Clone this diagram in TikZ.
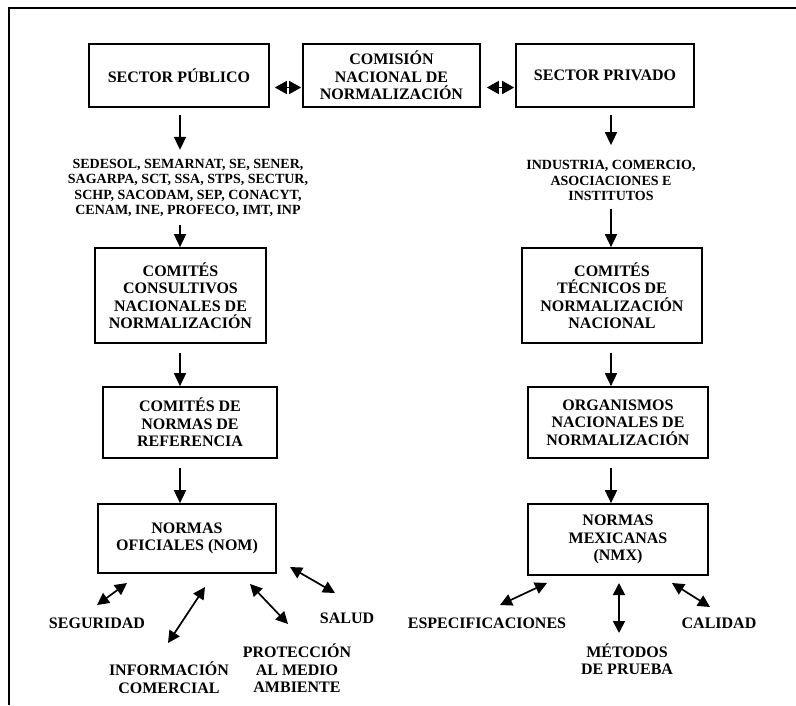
\documentclass[tikz,border=0pt]{standalone}
\usepackage{fontspec}
\setmainfont{Liberation Serif}
\usetikzlibrary{arrows.meta}
\newcommand{\boxfont}{\bfseries\fontsize{16}{17.5}\selectfont}
\newcommand{\listfont}{\bfseries\fontsize{14}{15.5}\selectfont}
\tikzset{
  box/.style={draw, line width=1.7pt, align=center, font=\boxfont, inner sep=0pt},
  listtext/.style={align=center, font=\listfont, inner sep=0pt},
  lbl/.style={align=center, font=\boxfont, inner sep=0pt},
  flow/.style={line width=1.7pt, -{Triangle[length=13pt,width=12pt]}},
  both/.style={line width=1.7pt, {Triangle[length=12pt,width=12pt]}-{Triangle[length=12pt,width=12pt]}},
  link/.style={line width=1.7pt, {Triangle[length=12pt,width=13pt]}-{Triangle[length=12pt,width=13pt]}},
  frame/.style={line width=1.5pt}
}
\begin{document}
\begin{tikzpicture}[x=1pt, y=-1pt]
\useasboundingbox (0,0) rectangle (796,705);
\draw[frame] (9,705) -- (9,8) -- (796,8);

% top row
\node[box, minimum width=180pt, minimum height=63pt] (pub) at (179,75.5) {SECTOR PÚBLICO};
\node[box, minimum width=177pt, minimum height=63pt] (com) at (391.5,75.5) {COMISIÓN\\NACIONAL DE\\NORMALIZACIÓN};
\node[box, minimum width=178pt, minimum height=63pt] (priv) at (605,75.5) {SECTOR PRIVADO};
\draw[link] ([shift={(5,12)}]pub.east) -- ([shift={(-1,12)}]com.west);
\draw[link] ([shift={(6,12)}]com.east) -- ([shift={(-1,12)}]priv.west);

% public sector column
\node[listtext] (dep) at (188,188) {SEDESOL, SEMARNAT, SE, SENER,\\SAGARPA, SCT, SSA, STPS, SECTUR,\\SCHP, SACODAM, SEP, CONACYT,\\CENAM, INE, PROFECO, IMT, INP};
\node[box, minimum width=171pt, minimum height=95pt] (ccn) at (180.5,295.5) {COMITÉS\\CONSULTIVOS\\NACIONALES DE\\NORMALIZACIÓN};
\node[box, minimum width=174pt, minimum height=71pt] (cnr) at (190,422.5) {COMITÉS DE\\NORMAS DE\\REFERENCIA};
\node[box, minimum width=178pt, minimum height=69pt] (nom) at (187,538.5) {NORMAS\\OFICIALES (NOM)};

\coordinate (xl) at (180,0);
\draw[flow] ([shift={(0,7)}]pub.south -| xl) -- ([shift={(0,-9)}]dep.north -| xl);
\draw[flow] ([shift={(0,8)}]dep.south -| xl) -- (ccn.north -| xl);
\draw[flow] ([shift={(0,9)}]ccn.south -| xl) -- (cnr.north -| xl);
\draw[flow] ([shift={(0,9)}]cnr.south -| xl) -- (nom.north -| xl);

% private sector column
\node[listtext] (ind) at (611,180.5) {INDUSTRIA, COMERCIO,\\ASOCIACIONES E\\INSTITUTOS};
\node[box, minimum width=180pt, minimum height=95pt] (ctn) at (612,295.5) {COMITÉS\\TÉCNICOS DE\\NORMALIZACIÓN\\NACIONAL};
\node[box, minimum width=180pt, minimum height=71pt] (onn) at (618,422.5) {ORGANISMOS\\NACIONALES DE\\NORMALIZACIÓN};
\node[box, minimum width=180pt, minimum height=71pt] (nmx) at (618,539.5) {NORMAS\\MEXICANAS\\(NMX)};

\coordinate (xr) at (611,0);
\draw[flow] ([shift={(0,7)}]priv.south -| xr) -- ([shift={(0,-15)}]ind.north -| xr);
\draw[flow] ([shift={(0,8)}]ind.south -| xr) -- (ctn.north -| xr);
\draw[flow] ([shift={(0,9)}]ctn.south -| xr) -- (onn.north -| xr);
\draw[flow] ([shift={(0,9)}]onn.south -| xr) -- (nmx.north -| xr);

% scopes of the official standards
\node[lbl] (seg) at (97,623) {SEGURIDAD};
\node[lbl] (inf) at (169,677.5) {INFORMACIÓN\\COMERCIAL};
\node[lbl] (pro) at (297,668.5) {PROTECCIÓN\\AL MEDIO\\AMBIENTE};
\node[lbl] (sal) at (347,618) {SALUD};
\coordinate (nom1) at (127,583);
\coordinate (nom2) at (205,587);
\coordinate (nom3) at (250,584);
\coordinate (nom4) at (290,567);
\coordinate (seg1) at (97,605);
\coordinate (inf1) at (168,643);
\coordinate (pro1) at (288,624);
\coordinate (sal1) at (335,593);
\draw[both] (nom1) -- (seg1);
\draw[both] (nom2) -- (inf1);
\draw[both] (nom3) -- (pro1);
\draw[both] (nom4) -- (sal1);

% scopes of the Mexican standards
\node[lbl] (esp) at (487,623) {ESPECIFICACIONES};
\node[lbl] (met) at (627,659) {MÉTODOS\\DE PRUEBA};
\node[lbl] (cal) at (719,623) {CALIDAD};
\coordinate (nmx1) at (547,583);
\coordinate (nmx2) at (619,583);
\coordinate (nmx3) at (672,583);
\coordinate (esp1) at (500,605);
\coordinate (met1) at (619,633);
\coordinate (cal1) at (710,607);
\draw[both] (nmx1) -- (esp1);
\draw[both] (nmx2) -- (met1);
\draw[both] (nmx3) -- (cal1);
\end{tikzpicture}
\end{document}
